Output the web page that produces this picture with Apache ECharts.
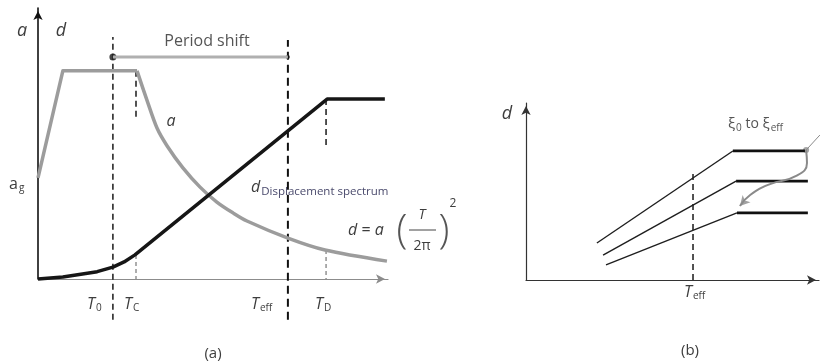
<!DOCTYPE html>
<html>
<head>
<meta charset="utf-8">
<script src="https://cdn.jsdelivr.net/npm/echarts@6/dist/echarts.min.js"></script>
<style>
  html, body { margin: 0; padding: 0; background: #fff; }
  #chart { width: 820px; height: 362px; }
</style>
</head>
<body>
<div id="chart"></div>
<script>
// ---------- Panel (a): response spectra against period T (relative units 0–100) ----------
// Acceleration spectrum a(T)
const accelRiseT    = [0, 7.1, 28.3];
const accelRiseVal  = [37.3, 76.8, 76.8];
const accelDecayT   = [28.3, 31.1, 34.0, 36.9, 41.4, 46.3, 51.1, 55.7, 59.7, 71.4, 82.0, 99.7];
const accelDecayVal = [76.8, 66.1, 55.7, 49.1, 41.0, 33.9, 28.4, 24.4, 21.4, 15.1, 10.7, 6.6];
// Displacement spectrum d(T)
const dispT   = [0, 7.1, 16.9, 21.4, 24.6, 27.7, 82.6, 99.1];
const dispVal = [0, 0.7, 2.7, 4.4, 6.3, 8.9, 66.4, 66.4];
// Corner periods: T0, TC, Teff, TD
const cornerT = [21.4, 28.0, 71.4, 82.3];
// Extents of the dashed guides at each corner period
const guideT0   = [-15, 89.3];
const guideTcHi = [76.8, 59.4];
const guideTcLo = [8.9, 0];
const guideTeff = [-15, 88.2];
const guideTdHi = [66.4, 48.3];
const guideTdLo = [10.7, 0];
// Period shift level (T0 -> Teff)
const shiftLevel = 81.9;

// ---------- Panel (b): displacement spectra for increasing damping ----------
const specStartT   = [24.2, 26.3, 27.3];
const specStartD   = [20.9, 14.1, 8.5];
const specCornerT  = [70.6, 71.7, 72.0];
const specPlateauD = [72.9, 55.9, 37.9];
const specEndT     = [95.2, 96.2, 96.2];
const teffB        = 57;
const teffBTop     = 62.1;
// Damping arrow from xi0 to xieff
const dampArrowT = [95.6, 95.9, 92.2, 83.3, 76.5, 73.0];
const dampArrowD = [73.4, 66.1, 58.8, 54.2, 48.0, 41.8];
const leaderT = [95.6, 100.3];
const leaderD = [73.4, 81.9];

const ink = '#3d3d3d';
const fontFam = '"Open Sans", "Noto Sans", sans-serif';

const zip = (xs, ys) => xs.map((x, i) => [x, ys[i]]);

function seg(gi, pts, style, extra) {
  return Object.assign({
    type: 'line', xAxisIndex: gi, yAxisIndex: gi, data: pts,
    symbol: 'none', clip: false, silent: true, animation: false,
    lineStyle: style
  }, extra || {});
}
function vline(gi, x, ext, style) {
  return seg(gi, [[x, ext[0]], [x, ext[1]]], style);
}

const dashBlack = { color: '#1a1a1a', width: 1.5, type: [6, 4] };
const dashBold  = { color: '#111', width: 2, type: [8, 5] };
const dashGray  = { color: '#777', width: 1.2, type: [4, 3] };

const series = [
  // Panel (a)
  vline(0, cornerT[0], guideT0, dashBlack),
  vline(0, cornerT[1], guideTcHi, dashBlack),
  vline(0, cornerT[1], guideTcLo, dashGray),
  vline(0, cornerT[2], guideTeff, dashBold),
  vline(0, cornerT[3], guideTdHi, dashBlack),
  vline(0, cornerT[3], guideTdLo, dashGray),
  seg(0, zip(accelRiseT, accelRiseVal), { color: '#9c9c9c', width: 3.5, join: 'round' }),
  seg(0, zip(accelDecayT, accelDecayVal), { color: '#9c9c9c', width: 3.5, join: 'round' },
      { smooth: 0.3 }),
  seg(0, zip(dispT, dispVal), { color: '#161616', width: 3.5, join: 'round' }),
  seg(0, [[cornerT[0], shiftLevel], [cornerT[2], shiftLevel]], { color: '#b0b0b0', width: 3 }),
  { type: 'scatter', xAxisIndex: 0, yAxisIndex: 0, silent: true, animation: false, clip: false,
    symbol: 'circle', symbolSize: 7, itemStyle: { color: '#151515' },
    data: [[cornerT[0], shiftLevel]] },
  { type: 'scatter', xAxisIndex: 0, yAxisIndex: 0, silent: true, animation: false, clip: false,
    symbol: 'circle', symbolSize: 4, itemStyle: { color: '#151515' },
    data: [[cornerT[2], shiftLevel]] },
  // Panel (b)
  vline(1, teffB, [0, teffBTop], dashBlack)
];
for (let i = 0; i < specStartT.length; i++) {
  series.push(seg(1, [[specStartT[i], specStartD[i]], [specCornerT[i], specPlateauD[i]]],
    { color: '#1e1e1e', width: 1.4 }));
  series.push(seg(1, [[specCornerT[i], specPlateauD[i]], [specEndT[i], specPlateauD[i]]],
    { color: '#111', width: 2.8 }));
}
series.push(seg(1, zip(leaderT, leaderD), { color: '#8a8a8a', width: 1 }));
series.push(seg(1, zip(dampArrowT, dampArrowD), { color: '#8a8a8a', width: 2 }, { smooth: 0.5 }));
series.push({ type: 'scatter', xAxisIndex: 1, yAxisIndex: 1, silent: true, animation: false, clip: false,
  symbol: 'circle', symbolSize: 6, itemStyle: { color: '#8f8f8f' },
  data: [[dampArrowT[0], dampArrowD[0]]] });
series.push({ type: 'scatter', xAxisIndex: 1, yAxisIndex: 1, silent: true, animation: false, clip: false,
  symbol: 'arrow', symbolSize: [8, 10], symbolRotate: 138, itemStyle: { color: '#8a8a8a' },
  data: [[dampArrowT[dampArrowT.length - 1], dampArrowD[dampArrowD.length - 1]]] });

function axis(gi, color, width) {
  return {
    type: 'value', gridIndex: gi, min: 0, max: 100,
    axisLine: { show: true, onZero: false, symbol: ['none', 'arrow'], symbolSize: [7, 9],
      symbolOffset: [0, -3], lineStyle: { color: color, width: width } },
    axisTick: { show: false }, axisLabel: { show: false }, splitLine: { show: false }
  };
}

// Text annotations
const richBase = {
  i:  { fontFamily: fontFam, fontStyle: 'italic', fontSize: 16, fill: ink },
  r:  { fontFamily: fontFam, fontSize: 16, fill: ink },
  s:  { fontFamily: fontFam, fontSize: 10, fill: ink, padding: [9, 0, 0, 1] },
  sb: { fontFamily: fontFam, fontSize: 12, fill: '#4a4a6c', padding: [9, 0, 0, 1] },
  up: { fontFamily: fontFam, fontSize: 12, fill: ink, padding: [0, 0, 12, 2] }
};
function txt(x, y, text, align, extraStyle) {
  return {
    type: 'text', x: x, y: y, silent: true,
    style: Object.assign({
      text: text, rich: richBase, align: align || 'center', verticalAlign: 'middle',
      fontFamily: fontFam, fontSize: 16, fill: ink
    }, extraStyle || {})
  };
}
const bigItalic = Object.assign({}, richBase, { i: Object.assign({}, richBase.i, { fontSize: 18 }) });

const graphics = [
  txt(22, 31, '{i|a}', 'center', { rich: bigItalic }),
  txt(61, 31, '{i|d}', 'center', { rich: bigItalic }),
  txt(9, 184, '{r|a}{s|g}', 'left'),
  txt(207, 41, 'Period shift', 'center', { fontSize: 16, fill: '#555' }),
  txt(171, 121, '{i|a}', 'center'),
  txt(251, 187, '{i|d}{sb|Displacement spectrum}', 'left', {
    rich: Object.assign({}, richBase, { sb: Object.assign({}, richBase.sb, { fontSize: 11.5 }) })
  }),
  // d = a (T / 2π)^2
  txt(348, 230, '{i|d} {r|=} {i|a}', 'left'),
  txt(402, 232, '(', 'center', { fontSize: 40, fill: '#555', fontWeight: 300 }),
  txt(422, 215, '{i|T}', 'center', { rich: Object.assign({}, richBase, { i: Object.assign({}, richBase.i, { fontSize: 14 }) }) }),
  txt(422, 246, '2π', 'center', { fontSize: 14 }),
  { type: 'line', silent: true, shape: { x1: 409, y1: 230, x2: 436, y2: 230 }, style: { stroke: '#444', lineWidth: 1 } },
  txt(444, 232, ')', 'center', { fontSize: 40, fill: '#555', fontWeight: 300 }),
  txt(453, 204, '2', 'center', { fontSize: 12 }),
  // period labels, panel (a)
  txt(87, 304, '{i|T}{s|0}', 'left'),
  txt(124, 304, '{i|T}{s|C}', 'left'),
  txt(251, 304, '{i|T}{s|eff}', 'left'),
  txt(315, 304, '{i|T}{s|D}', 'left'),
  txt(213, 354, '(a)', 'center', { fontSize: 15 }),
  // panel (b)
  txt(507, 114, '{i|d}', 'center', { rich: bigItalic }),
  txt(684, 292, '{i|T}{s|eff}', 'left'),
  txt(728, 124, '{r|ξ}{s|0}{t| to }{r|ξ}{s|eff}', 'left', {
    rich: Object.assign({}, richBase, {
      r: Object.assign({}, richBase.r, { fontSize: 15, fill: '#555' }),
      t: { fontFamily: fontFam, fontSize: 14, fill: '#555' },
      s: Object.assign({}, richBase.s, { fill: '#555' })
    })
  }),
  txt(690, 351, '(b)', 'center', { fontSize: 15 })
];

const chart = echarts.init(document.getElementById('chart'), null, { renderer: 'canvas' });
chart.setOption({
  animation: false,
  backgroundColor: '#fff',
  grid: [
    { left: 38, top: 8, width: 350, height: 271, outerBoundsMode: 'none' },
    { left: 526, top: 103, width: 293, height: 177, outerBoundsMode: 'none' }
  ],
  xAxis: [axis(0, '#8c8c8c', 1.2), axis(1, '#333', 1.2)],
  yAxis: [axis(0, '#111', 1.6), axis(1, '#333', 1.2)],
  series: series,
  graphic: graphics
});
</script>
</body>
</html>
